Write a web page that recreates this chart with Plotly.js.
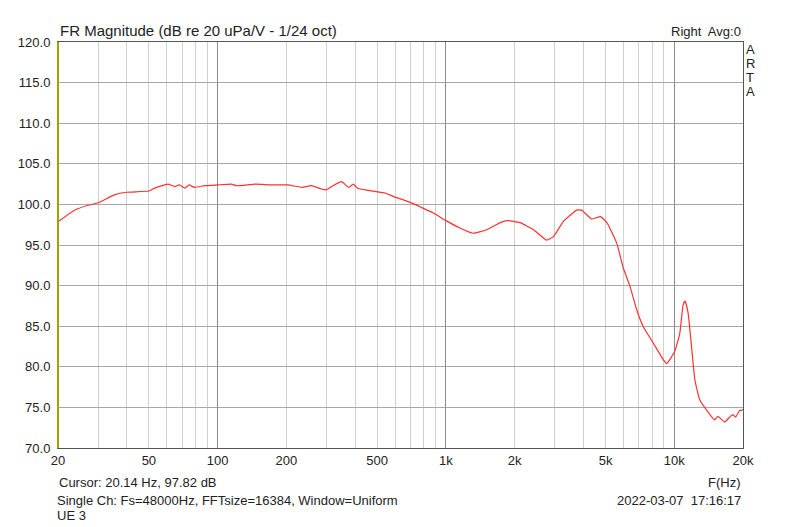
<!DOCTYPE html>
<html>
<head>
<meta charset="utf-8">
<script src="https://cdn.plot.ly/plotly-3.0.1.min.js"></script>
<style>html,body{margin:0;padding:0;background:#fff;}#chart{width:800px;height:527px;}</style>
</head>
<body>
<div id="chart"></div>
<script>
// Frequency (Hz) and magnitude (dB re 20 uPa/V)
var freqHz = [20, 23.7, 27.1, 30, 35.5, 40, 50, 53, 60.6, 65, 68, 72, 75, 79, 88, 100, 115, 121, 146, 172, 203, 234, 257, 285, 300, 320, 349, 375, 393, 410, 490, 541, 598, 660, 719, 784, 885, 1000, 1150, 1315, 1500, 1730, 1850, 2110, 2415, 2760, 2950, 3270, 3735, 3930, 4340, 4750, 5070, 5600, 5990, 6400, 6850, 7330, 8100, 8960, 9270, 10050, 10570, 10930, 11150, 11500, 11900, 12310, 12940, 13830, 15030, 15540, 16620, 17470, 18060, 18560, 19300, 20000];
var magDb = [97.85, 99.3, 99.9, 100.2, 101.2, 101.5, 101.65, 102.0, 102.5, 102.2, 102.4, 102.0, 102.4, 102.1, 102.3, 102.4, 102.5, 102.3, 102.5, 102.4, 102.4, 102.1, 102.3, 101.9, 101.8, 102.3, 102.8, 102.1, 102.5, 102.0, 101.6, 101.4, 100.9, 100.5, 100.1, 99.6, 98.9, 98.0, 97.1, 96.45, 96.85, 97.75, 98.0, 97.75, 96.9, 95.6, 96.0, 97.9, 99.3, 99.3, 98.2, 98.5, 97.75, 95.2, 92.1, 89.9, 87.0, 84.9, 82.9, 80.85, 80.4, 81.9, 84.1, 87.6, 88.1, 86.6, 82.5, 78.4, 75.9, 74.7, 73.45, 73.9, 73.2, 73.8, 74.1, 73.8, 74.6, 74.7];

var xGridVals = [20,30,40,50,60,70,80,90,100,200,300,400,500,600,700,800,900,1000,2000,3000,4000,5000,6000,7000,8000,9000,10000,20000];
var xLabelMap = {20:'20',50:'50',100:'100',200:'200',500:'500',1000:'1k',2000:'2k',5000:'5k',10000:'10k',20000:'20k'};
var decadeVals = [100, 1000, 10000];
var yTickVals = [70,75,80,85,90,95,100,105,110,115,120];
var sideLetters = ['A','R','T','A'];

var xTickText = xGridVals.map(function(v){ return xLabelMap[v] || ''; });
var yTickText = yTickVals.map(function(v){ return v.toFixed(1); });

var font = {family: 'Liberation Sans, Arial, sans-serif', size: 13, color: '#222'};
var logRange = [Math.log10(20), Math.log10(20000)];

var data = [{
  x: freqHz, y: magDb, type: 'scatter', mode: 'lines',
  line: {color: '#ff3030', width: 1.2, shape: 'spline', smoothing: 0.4},
  hoverinfo: 'x+y', showlegend: false
}];

var ann = [
  {text: 'FR Magnitude (dB re 20 uPa/V - 1/24 oct)', x: 0, y: 1, xref: 'paper', yref: 'paper', xanchor: 'left', yanchor: 'bottom', yshift: 1, showarrow: false, font: {family: font.family, size: 15, color: '#222'}},
  {text: 'Right  Avg:0', x: 1, y: 1, xref: 'paper', yref: 'paper', xanchor: 'right', yanchor: 'bottom', yshift: 1, showarrow: false, font: font},
  {text: 'F(Hz)', x: 1, y: 0, xref: 'paper', yref: 'paper', xanchor: 'right', yanchor: 'top', yshift: -25, showarrow: false, font: font},
  {text: 'Cursor: 20.14 Hz, 97.82 dB', x: 0, y: 0, xref: 'paper', yref: 'paper', xanchor: 'left', yanchor: 'top', xshift: -1, yshift: -25, showarrow: false, font: font},
  {text: 'Single Ch: Fs=48000Hz, FFTsize=16384, Window=Uniform', x: 0, y: 0, xref: 'paper', yref: 'paper', xanchor: 'left', yanchor: 'top', xshift: -3, yshift: -43, showarrow: false, font: font},
  {text: '2022-03-07  17:16:17', x: 1, y: 0, xref: 'paper', yref: 'paper', xanchor: 'right', yanchor: 'top', yshift: -43, showarrow: false, font: font},
  {text: 'UE 3', x: 0, y: 0, xref: 'paper', yref: 'paper', xanchor: 'left', yanchor: 'top', xshift: -3, yshift: -58, showarrow: false, font: font}
];
sideLetters.forEach(function(ch, i){
  ann.push({text: ch, x: 1, y: 1, xref: 'paper', yref: 'paper', xanchor: 'left', yanchor: 'top', xshift: 1, yshift: 2 - i * 14, showarrow: false, font: font});
});

var layout = {
  width: 800, height: 527,
  margin: {l: 58, r: 57, t: 42, b: 79, pad: 0},
  paper_bgcolor: '#fff', plot_bgcolor: '#fff',
  showlegend: false,
  font: font,
  xaxis: {
    type: 'log', range: logRange, tickmode: 'array', tickvals: xGridVals, ticktext: xTickText,
    showgrid: true, gridcolor: '#d0d0d0', gridwidth: 1, zeroline: false,
    showline: true, linecolor: '#555', linewidth: 1, mirror: true, ticks: '', ticklen: 0,
    tickfont: font
  },
  xaxis2: {
    type: 'log', range: logRange, overlaying: 'x', tickmode: 'array', tickvals: decadeVals,
    showticklabels: false, showgrid: true, gridcolor: '#8c8c8c', gridwidth: 1, zeroline: false,
    showline: false, ticks: ''
  },
  yaxis: {
    range: [70, 120], tickmode: 'array', tickvals: yTickVals, ticktext: yTickText,
    showgrid: true, gridcolor: '#a8a8a8', gridwidth: 1, zeroline: false,
    showline: true, linecolor: '#555', linewidth: 1, mirror: true, ticks: '', ticklen: 0,
    ticklabelstandoff: 4, tickfont: font
  },
  shapes: [
    {type: 'line', xref: 'paper', yref: 'paper', x0: 0, x1: 0, y0: 0, y1: 1, line: {color: '#a0a000', width: 2}}
  ],
  annotations: ann
};

data.push({x: [20, 20000], y: [null, null], xaxis: 'x2', yaxis: 'y', type: 'scatter', mode: 'lines', showlegend: false, hoverinfo: 'skip'});

Plotly.newPlot('chart', data, layout, {displayModeBar: false, staticPlot: true});
</script>
</body>
</html>
